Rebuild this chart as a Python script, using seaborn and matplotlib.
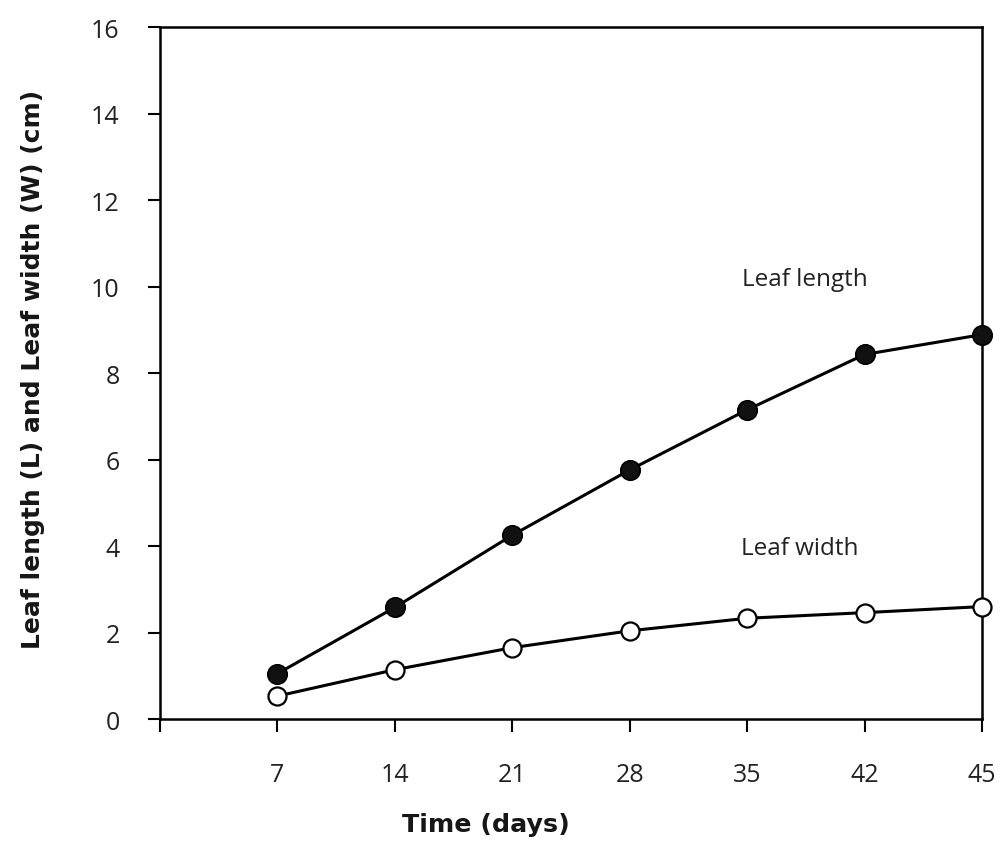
import matplotlib
matplotlib.use("Agg")
import matplotlib.pyplot as plt
import seaborn as sns
import pandas as pd

days = ["7", "14", "21", "28", "35", "42", "45"]
leaf_length = [1.05, 2.58, 4.25, 5.76, 7.15, 8.43, 8.89]
leaf_width = [0.53, 1.14, 1.65, 2.04, 2.33, 2.46, 2.60]

sns.set_style("ticks")
plt.rcParams['font.family'] = ['Open Sans', 'DejaVu Sans']

pos = list(range(1, len(days) + 1))
df = pd.DataFrame({"pos": pos * 2,
                   "value": leaf_length + leaf_width,
                   "series": ["Leaf length"] * len(days) + ["Leaf width"] * len(days)})

fig = plt.figure(figsize=(10.03, 8.53), dpi=100)
ax = fig.add_axes([0.1595, 0.1559, 0.979 - 0.1595, 0.967 - 0.1559])

sns.lineplot(data=df[df.series == "Leaf length"], x="pos", y="value", ax=ax,
             color="black", lw=2.2, marker="o", markersize=14, clip_on=False,
             markerfacecolor="#111111", markeredgecolor="black", markeredgewidth=1.2, zorder=3)
sns.lineplot(data=df[df.series == "Leaf width"], x="pos", y="value", ax=ax,
             color="black", lw=2.2, marker="o", markersize=13, clip_on=False,
             markerfacecolor="white", markeredgecolor="black", markeredgewidth=1.6, zorder=3)

ax.set_xlim(0, 7)
ax.set_ylim(0, 16)
ax.set_xticks([0] + pos)
ax.set_xticklabels([""] + days)
ax.set_yticks(range(0, 17, 2))
ax.tick_params(axis="both", direction="out", length=9, width=1.5, labelsize=18, color="black", labelcolor="#222222")
ax.tick_params(axis="x", pad=22)
ax.tick_params(axis="y", pad=20)
for s in ax.spines.values():
    s.set_linewidth(1.8)
    s.set_color("black")
    s.set_visible(True)

ax.set_xlabel("Time (days)", fontsize=18.3, fontweight="bold", family="DejaVu Sans",
              color="#161616")
ax.set_ylabel("Leaf length (L) and Leaf width (W) (cm)", fontsize=18, fontweight="bold",
              family="DejaVu Sans", color="#161616")
ax.xaxis.label.set_verticalalignment("center")
ax.xaxis.set_label_coords(0.397, -0.152)
ax.yaxis.set_label_coords(-0.14, 0.506)

ax.text(5.49, 10.18, "Leaf length", fontsize=17.5, ha="center", va="center", color="#222222")
ax.text(5.45, 3.95, "Leaf width", fontsize=17.5, ha="center", va="center", color="#222222")

fig.savefig("out.png", dpi=100)
